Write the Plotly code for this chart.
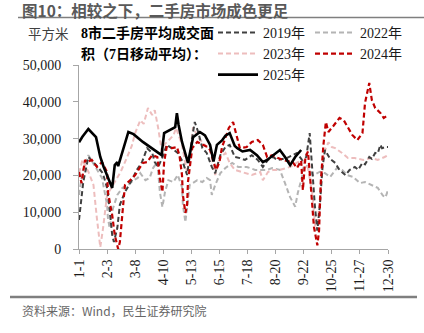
import plotly.graph_objects as go

W, H = 424, 333
PL, PR, PT, PB = 79, 388, 65, 249  # plot area in px

# ---- data (day of year, 7-day MA of area, m2) ----
tick_days = [1, 34, 67, 100, 133, 166, 199, 232, 265, 298, 331, 364]
tick_labels = ["1-1", "2-3", "3-8", "4-10", "5-13", "6-15", "7-18", "8-20", "9-22", "10-25", "11-27", "12-30"]

days_2019 = [1, 6, 12, 18, 23, 29, 34, 37, 40, 42, 46, 49, 55, 63, 69, 75, 77, 81, 87, 90, 94, 100, 104, 110,
             117, 123, 128, 131, 135, 137, 141, 146, 151, 157, 161, 167, 173, 178, 184, 190, 196, 204, 211, 217,
             223, 229, 234, 245, 257, 263, 268, 272, 275, 278, 281, 284, 287, 290, 296, 302, 307, 314, 319, 325,
             329, 334, 337, 342, 345, 349, 352, 355, 357, 361, 364]
vals_2019 = [7900, 18200, 25000, 23600, 22300, 20600, 16600, 10600, 3800, 1900, 5700, 12000, 15500, 18700, 21500,
             23600, 25000, 27400, 26100, 23600, 22300, 25500, 28300, 27400, 26100, 23600, 20100, 25500, 31800, 34500,
             31800, 27400, 26100, 22300, 20600, 25500, 27700, 28300, 25000, 24700, 24200, 25500, 24200, 22300, 24200,
             25000, 24200, 24700, 26100, 24200, 25000, 31500, 21000, 12000, 5000, 12000, 22000, 26900, 24500, 23400,
             21500, 20100, 21500, 22300, 21500, 23400, 23000, 25000, 24500, 26100, 26000, 28300, 27400, 27700, 27700]

days_2022 = [1, 5, 12, 20, 28, 34, 35, 37, 41, 46, 52, 59, 65, 70, 73, 79, 84, 88, 93, 96, 99, 102, 106, 112, 117,
             122, 123, 126, 128, 131, 140, 146, 151, 155, 157, 161, 167, 173, 181, 188, 198, 208, 216, 222, 228, 237,
             243, 249, 255, 258, 263, 266, 270, 276, 284, 290, 296, 304, 310, 316, 323, 331, 337, 345, 352, 358, 361, 364]
vals_2022 = [14700, 20900, 25500, 22300, 19300, 12000, 8400, 5700, 11100, 14700, 16600, 17400, 18700, 19300, 20600,
             18700, 19300, 22000, 23600, 15500, 11400, 15500, 18700, 18200, 20100, 16800, 12000, 7300, 12000, 17400,
             18700, 18200, 19300, 18700, 14700, 17400, 20600, 22000, 23400, 22300, 22300, 21500, 21500, 21500, 22000,
             21500, 17900, 14100, 11500, 15200, 19600, 24000, 22000, 20000, 21000, 20600, 19600, 22000, 21500, 20100,
             19600, 17900, 18200, 17400, 16600, 14500, 14000, 16000]

days_2023 = [1, 5, 12, 18, 22, 26, 29, 34, 40, 50, 55, 63, 67, 73, 77, 82, 87, 90, 94, 99, 101, 106, 112, 115, 122,
             128, 131, 135, 141, 149, 155, 161, 167, 173, 178, 184, 192, 204, 214, 217, 223, 229, 237, 249, 258, 265,
             270, 275, 279, 281, 284, 288, 291, 294, 298, 302, 310, 317, 325, 335, 345, 352, 360, 364]
vals_2023 = [20600, 24200, 21000, 17400, 8400, 500, 5200, 14700, 17000, 21000, 23600, 28000, 31500, 35000, 34000,
             38300, 36400, 37700, 32900, 25500, 28300, 29600, 30900, 32900, 28300, 20600, 25000, 33100, 30200, 28300,
             26900, 20100, 24700, 26100, 23400, 21500, 20900, 20100, 20900, 18700, 20900, 21500, 21500, 22300, 23600,
             24000, 22000, 15000, 5000, 6000, 14000, 25000, 27400, 29000, 27700, 27400, 26100, 24700, 24700, 24200,
             24700, 24200, 25000, 25500]

days_2024 = [1, 4, 8, 10, 16, 22, 28, 34, 35, 40, 43, 47, 49, 52, 55, 61, 67, 73, 76, 81, 87, 93, 96, 99, 101, 104,
             110, 116, 119, 122, 123, 126, 128, 129, 134, 140, 146, 152, 155, 159, 162, 166, 169, 173, 177, 182, 187,
             190, 198, 204, 211, 217, 222, 228, 234, 241, 252, 257, 262, 264, 267, 270, 273, 277, 281, 283, 285, 288,
             291, 294, 300, 307, 312, 317, 322, 328, 334, 337, 340, 342, 345, 349, 355, 359, 364]
vals_2024 = [20900, 17900, 24200, 23600, 24200, 22300, 23600, 20900, 15500, 9200, 3800, 0, 1900, 10000, 17400, 18700,
             20100, 22300, 23400, 23600, 25500, 25000, 19300, 15500, 23600, 27700, 27400, 27700, 25500, 20100, 14700,
             9800, 12000, 18200, 27400, 29100, 28300, 27700, 26900, 23600, 21500, 23600, 27700, 30200, 32900, 34500,
             30200, 27400, 27700, 29100, 29600, 28300, 25000, 25500, 24800, 24200, 23600, 22000, 24000, 16000, 25000,
             26500, 18000, 6000, 1000, 5000, 18000, 28000, 34500, 31800, 33500, 35600, 35000, 33100, 31000, 29600,
             31500, 39700, 43200, 45100, 40500, 38300, 37000, 35600, 36400]

days_2025 = [1, 5, 12, 18, 21, 26, 30, 40, 43, 46, 47, 59, 65, 76, 98, 101, 108, 114, 116, 118, 122, 129, 135, 143,
             149, 155, 157, 159, 163, 169, 173, 178, 184, 187, 193, 202, 210, 217, 222, 229, 237, 243, 249, 255, 262]
vals_2025 = [29000, 30500, 32600, 31000, 30400, 25000, 22300, 16600, 22800, 23600, 22500, 31800, 31200, 29100, 25500,
             31500, 32300, 33100, 36900, 33700, 29100, 23400, 30400, 31800, 30900, 28300, 26100, 23800, 28300, 29500,
             30800, 31500, 28000, 27400, 26500, 26900, 25500, 23600, 24200, 25500, 26900, 25000, 22800, 25000, 26900]

series = [
    ("2022年", days_2022, vals_2022, "#B4B4B4", "dash", 2.0, "legend2"),
    ("2023年", days_2023, vals_2023, "#EDBDBD", "dash", 2.0, "legend3"),
    ("2019年", days_2019, vals_2019, "#404040", "dash", 2.0, "legend"),
    ("2024年", days_2024, vals_2024, "#C00000", "dash", 2.2, "legend4"),
    ("2025年", days_2025, vals_2025, "#000000", "solid", 2.6, "legend5"),
]

SERIF = "Liberation Serif, Noto Sans CJK SC"
SANS = "Noto Sans CJK SC"

fig = go.Figure()
for name, d, v, c, dash, w, lg in series:
    fig.add_trace(go.Scatter(
        x=d, y=v, mode="lines", name=name, legend=lg,
        line=dict(color=c, width=w, dash=("5px,3px" if dash == "dash" else "solid")),
        hoverinfo="skip",
    ))


def px_x(px):
    return (px - PL) / (PR - PL)


def px_y(py):
    return (PB - py) / (PB - PT)


def leg(xpx, ypx):
    return dict(x=xpx / W, y=1 - ypx / H, xref="container", yref="container", xanchor="left", yanchor="middle",
                orientation="h", bgcolor="rgba(0,0,0,0)", borderwidth=0, itemwidth=40,
                font=dict(family=SERIF, size=14, color="#1a1a1a"), itemclick=False, itemdoubleclick=False)


fig.update_layout(
    width=W, height=H,
    margin=dict(l=PL, r=W - PR, t=PT, b=H - PB, autoexpand=False),
    paper_bgcolor="white", plot_bgcolor="white",
    showlegend=True,
    legend=leg(213, 33),
    legend2=leg(310, 33),
    legend3=leg(213, 54),
    legend4=leg(310, 54),
    legend5=leg(213, 75),
    xaxis=dict(range=[1, 364], tickmode="array", tickvals=tick_days, ticktext=tick_labels, tickangle=-90,
               ticks="outside", ticklen=4, tickcolor="#A6A6A6", showline=True, linecolor="#A6A6A6", linewidth=1,
               showgrid=False, zeroline=False, automargin=False,
               tickfont=dict(family=SERIF, size=14, color="#1a1a1a")),
    yaxis=dict(range=[0, 50000], dtick=10000, tickformat=",", ticks="outside", ticklen=5, tickcolor="#A6A6A6",
               showline=True, linecolor="#A6A6A6", linewidth=1, showgrid=False, zeroline=False, automargin=False,
               ticklabelstandoff=9, tickfont=dict(family=SERIF, size=14, color="#1a1a1a")),
)

annos = [
    dict(text="<b>图10：相较之下，二手房市场成色更足</b>", x=px_x(20), y=px_y(10), font=dict(family=SANS, size=15.5, color="#595959")),
    dict(text="平方米", x=px_x(26), y=px_y(33), font=dict(family=SANS, size=13.5, color="#404040")),
    dict(text="<b>8市二手房平均成交面</b>", x=px_x(79), y=px_y(33), font=dict(family=SERIF, size=14, color="#000000")),
    dict(text="<b>积（7日移动平均）：</b>", x=px_x(79), y=px_y(54), font=dict(family=SERIF, size=14, color="#000000")),
    dict(text="资料来源：Wind，民生证券研究院", x=px_x(20), y=px_y(310), font=dict(family=SANS, size=12, color="#666666")),
]
for a in annos:
    fig.add_annotation(xref="paper", yref="paper", xanchor="left", yanchor="middle", showarrow=False, **a)

fig.add_shape(type="line", xref="paper", yref="paper", x0=px_x(18), x1=px_x(424), y0=px_y(17.5), y1=px_y(17.5),
              line=dict(color="#7F7F7F", width=1.5))
fig.add_shape(type="line", xref="paper", yref="paper", x0=px_x(10), x1=px_x(417), y0=px_y(297), y1=px_y(297),
              line=dict(color="#7F7F7F", width=2.5))

fig.write_html("out.html")
